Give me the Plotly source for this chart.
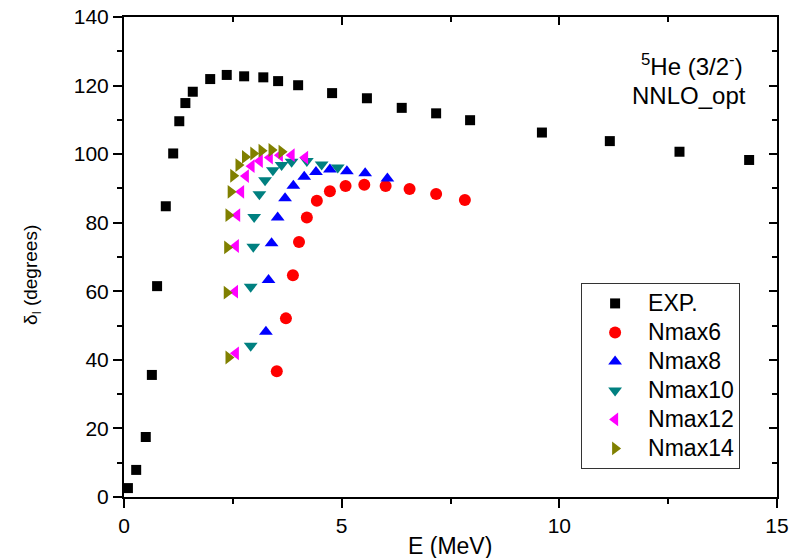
import plotly.graph_objects as go

# ---- data ----
E_exp = [0.09, 0.28, 0.50, 0.64, 0.76, 0.96, 1.13, 1.27, 1.41, 1.58, 1.98, 2.36, 2.76, 3.20, 3.54,
         4.00, 4.78, 5.58, 6.38, 7.17, 7.95, 9.60, 11.16, 12.76, 14.36]
d_exp = [2.6, 7.9, 17.5, 35.6, 61.5, 84.8, 100.2, 109.6, 114.9, 118.2, 121.9, 123.1, 122.7, 122.4, 121.3,
         120.1, 117.8, 116.3, 113.5, 111.9, 109.9, 106.3, 103.8, 100.7, 98.3]

E_n6 = [3.51, 3.72, 3.88, 4.02, 4.20, 4.43, 4.73, 5.09, 5.52, 6.01, 6.56, 7.17, 7.83]
d_n6 = [36.7, 52.1, 64.7, 74.4, 81.5, 86.4, 89.2, 90.7, 91.1, 90.7, 89.8, 88.4, 86.6]

E_n8 = [3.26, 3.32, 3.39, 3.53, 3.70, 3.89, 4.14, 4.41, 4.73, 5.12, 5.54, 6.05]
d_n8 = [48.2, 63.3, 74.0, 81.5, 87.1, 90.8, 93.4, 94.8, 95.5, 95.0, 94.4, 92.9]

E_n10 = [2.91, 2.91, 2.97, 2.99, 3.11, 3.24, 3.42, 3.62, 3.85, 4.20, 4.54, 4.91]
d_n10 = [44.1, 61.3, 73.0, 81.7, 88.3, 92.4, 95.3, 96.8, 97.8, 98.0, 97.0, 96.1]

E_n12 = [2.57, 2.55, 2.57, 2.60, 2.69, 2.80, 2.93, 3.12, 3.35, 3.58, 3.85, 4.16]
d_n12 = [41.9, 59.9, 73.2, 82.2, 89.0, 93.6, 96.5, 98.0, 99.0, 99.7, 99.7, 99.0]

E_n14 = [2.40, 2.36, 2.37, 2.40, 2.45, 2.51, 2.63, 2.78, 2.97, 3.16, 3.39, 3.62]
d_n14 = [40.7, 59.6, 72.8, 82.2, 89.0, 93.7, 96.8, 99.2, 100.2, 101.0, 101.2, 100.7]

FONT = "Arial, Liberation Sans, sans-serif"

series = [
    ("EXP.", E_exp, d_exp, "square", "#000000", 10),
    ("Nmax6", E_n6, d_n6, "circle", "#FF0000", 12),
    ("Nmax8", E_n8, d_n8, "triangle-up", "#0000FF", 12),
    ("Nmax10", E_n10, d_n10, "triangle-down", "#008080", 12),
    ("Nmax12", E_n12, d_n12, "triangle-left", "#FF00FF", 12),
    ("Nmax14", E_n14, d_n14, "triangle-right", "#808000", 12),
]

fig = go.Figure()
for name, xs, ys, sym, col, sz in series:
    fig.add_trace(go.Scatter(x=xs, y=ys, mode="markers",
                             name="<span style='font-size:23px'>" + name + "</span>",
                             marker=dict(symbol=sym, color=col, size=sz, line=dict(width=0))))

# empty trace to carry the mirrored (top/right) axes
fig.add_trace(go.Scatter(x=[], y=[], xaxis="x2", yaxis="y2", showlegend=False, hoverinfo="skip"))

axis_common = dict(showgrid=False, zeroline=False, showline=True, linewidth=2, linecolor="black",
                   tickwidth=2, tickcolor="black", automargin=False)

fig.update_layout(
    width=797, height=558,
    margin=dict(l=124, r=20, t=17, b=61),
    paper_bgcolor="white", plot_bgcolor="white",
    font=dict(family=FONT, color="black"),
    xaxis=dict(range=[0, 15], dtick=5, tick0=0, ticks="outside", ticklen=9,
               minor=dict(dtick=2.5, ticks="outside", ticklen=5, tickwidth=2, tickcolor="black"),
               tickfont=dict(size=21, family=FONT), ticklabeloverflow="allow",
               **axis_common),
    yaxis=dict(range=[0, 140], dtick=20, tick0=0, ticks="outside", ticklen=9,
               minor=dict(dtick=10, ticks="outside", ticklen=5, tickwidth=2, tickcolor="black"),
               tickfont=dict(size=21, family=FONT), ticklabeloverflow="allow",
               **axis_common),
    xaxis2=dict(range=[0, 15], dtick=5, tick0=0, overlaying="x", side="top", anchor="y",
                ticks="inside", ticklen=8, showticklabels=False,
                minor=dict(dtick=2.5, ticks="inside", ticklen=5, tickwidth=2, tickcolor="black"),
                **axis_common),
    yaxis2=dict(range=[0, 140], dtick=20, tick0=0, overlaying="y", side="right", anchor="x",
                ticks="inside", ticklen=8, showticklabels=False,
                minor=dict(dtick=10, ticks="inside", ticklen=5, tickwidth=2, tickcolor="black"),
                **axis_common),
    legend=dict(x=0.70, y=0.446, xanchor="left", yanchor="top",
                bordercolor="#333333", borderwidth=1, bgcolor="white",
                font=dict(size=20, family=FONT), itemwidth=56,
                tracegroupgap=0),
    showlegend=True,
)

# axis titles
fig.add_annotation(x=0.4992, y=-0.102, xref="paper", yref="paper", xanchor="center", yanchor="middle",
                   text="E (MeV)", showarrow=False, font=dict(size=23, family=FONT))
fig.add_annotation(x=-0.141, y=0.4625, xref="paper", yref="paper", xanchor="center", yanchor="middle",
                   text="δ<sub>l</sub> (degrees)", showarrow=False, textangle=-90,
                   font=dict(size=19, family=FONT))

# label in the top-right corner
fig.add_annotation(x=14.27, y=126, xref="x", yref="y", xanchor="right", yanchor="middle",
                   text="<sup>5</sup>He (3/2<sup>-</sup>)", showarrow=False,
                   font=dict(size=24, family=FONT))
fig.add_annotation(x=14.33, y=117.2, xref="x", yref="y", xanchor="right", yanchor="middle",
                   text="NNLO_opt", showarrow=False,
                   font=dict(size=24, family=FONT))

fig.write_html("out.html", config={"displayModeBar": False},
               post_script="document.body.style.margin='0px';")
